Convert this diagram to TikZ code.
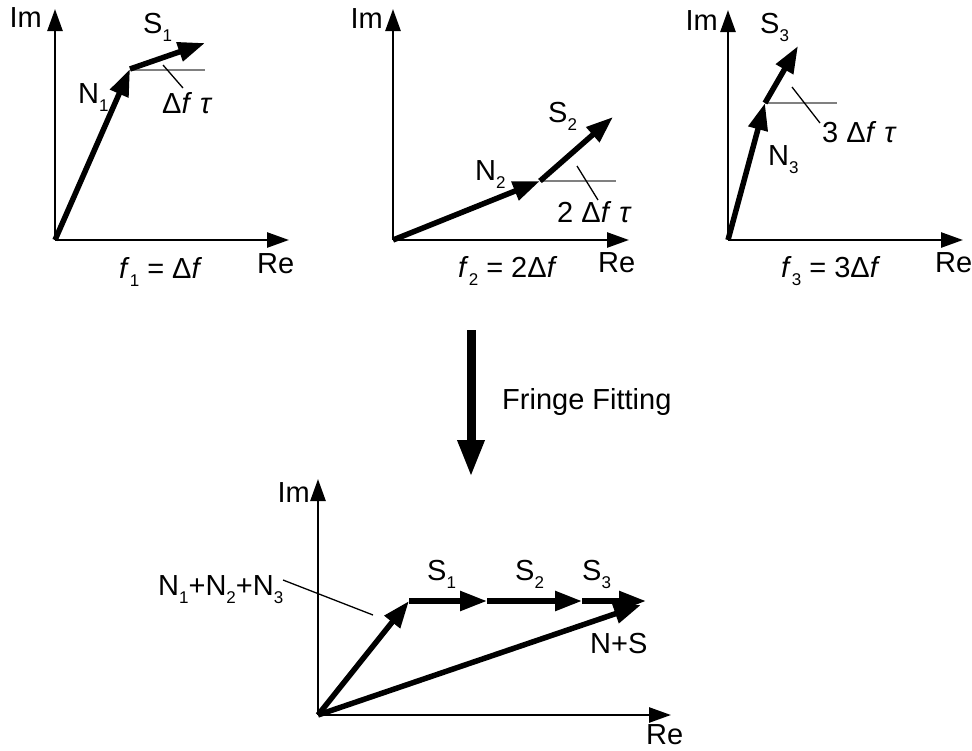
\documentclass[tikz,border=0pt]{standalone}
\usepackage{fontspec}
\setmainfont{Liberation Sans}
\usetikzlibrary{arrows.meta}
\newcommand\sbs[1]{\raisebox{-8.5pt}{\fontsize{17}{17}\selectfont #1}}
\begin{document}
\begin{tikzpicture}[x=1pt,y=-1pt,
  axis/.style={line width=2.6pt,-{Triangle[length=22pt,width=15pt]}},
  vec/.style={line width=5.5pt,-{Triangle[length=27pt,width=19pt]}},
  refline/.style={line width=1.3pt,draw={rgb,255:red,128;green,128;blue,128}},
  leader/.style={line width=1.3pt,black},
  lbl/.style={inner sep=0pt,font=\fontsize{29}{32}\selectfont},
  bigarrow/.style={line width=9pt,-{Triangle[length=37pt,width=25pt]}}]
\useasboundingbox (0,0) rectangle (972,750);
% ---------- panel 1 ----------
\coordinate (O1) at (55,240);
\coordinate (I1) at (55,9);
\coordinate (R1) at (289,240);
\coordinate (N1) at (130,69);
\coordinate (S1) at (205,43);
\coordinate (H1) at (205,70);
\coordinate (L1a) at (163,65);
\coordinate (L1b) at (183,88);
\draw[axis] (O1) -- (I1);
\draw[axis] (O1) -- (R1);
\draw[refline] (N1 |- H1) -- (H1);
\draw[leader] (L1a) -- (L1b);
\draw[vec] (O1) -- (N1);
\draw[vec] (N1) -- (S1);
\node[lbl,anchor=base east] (im1) at (42,27) {Im};
\node[lbl,anchor=base west] (re1) at (257,273) {Re};
\node[lbl,anchor=base west] (s1l) at (143,33) {S\sbs{1}};
\node[lbl,anchor=base west] (n1l) at (78,103) {N\sbs{1}};
\node[lbl,anchor=base west] (d1l) at (162,113) {Δ\textit{f} \textit{τ}};
\node[lbl,anchor=base west] (f1l) at (119,278) {\textit{f}\sbs{1} = Δ\textit{f}};
% ---------- panel 2 ----------
\coordinate (O2) at (393,240);
\coordinate (I2) at (393,9);
\coordinate (R2) at (629,240);
\coordinate (N2) at (540,181);
\coordinate (S2) at (613,117);
\coordinate (H2) at (616,181);
\coordinate (L2a) at (577,166);
\coordinate (L2b) at (598,200);
\draw[axis] (O2) -- (I2);
\draw[axis] (O2) -- (R2);
\draw[refline] (N2) -- (H2);
\draw[leader] (L2a) -- (L2b);
\draw[vec] (O2) -- (N2);
\draw[vec] (N2) -- (S2);
\node[lbl,anchor=base east] (im2) at (383,28) {Im};
\node[lbl,anchor=base west] (re2) at (598,272) {Re};
\node[lbl,anchor=base west] (s2l) at (548,122) {S\sbs{2}};
\node[lbl,anchor=base west] (n2l) at (475,180) {N\sbs{2}};
\node[lbl,anchor=base west] (d2l) at (557,222) {2 Δ\textit{f} \textit{τ}};
\node[lbl,anchor=base west] (f2l) at (458,277) {\textit{f}\sbs{2} = 2Δ\textit{f}};
% ---------- panel 3 ----------
\coordinate (O3) at (728,240);
\coordinate (I3) at (728,10);
\coordinate (R3) at (963,240);
\coordinate (N3) at (765,103);
\coordinate (S3) at (798,46);
\coordinate (H3) at (837,103);
\coordinate (L3a) at (792,87);
\coordinate (L3b) at (820,123);
\draw[axis] (O3) -- (I3);
\draw[axis] (O3) -- (R3);
\draw[refline] (N3) -- (H3);
\draw[leader] (L3a) -- (L3b);
\draw[vec] (O3) -- (N3);
\draw[vec] (N3) -- (S3);
\node[lbl,anchor=base east] (im3) at (718,30) {Im};
\node[lbl,anchor=base west] (re3) at (935,272) {Re};
\node[lbl,anchor=base west] (s3l) at (760,33) {S\sbs{3}};
\node[lbl,anchor=base west] (n3l) at (768,165) {N\sbs{3}};
\node[lbl,anchor=base west] (d3l) at (822,142) {3 Δ\textit{f} \textit{τ}};
\node[lbl,anchor=base west] (f3l) at (781,277) {\textit{f}\sbs{3} = 3Δ\textit{f}};
% ---------- fringe fitting ----------
\coordinate (FFa) at (471,330);
\coordinate (FFb) at (471,477);
\draw[bigarrow] (FFa) -- (FFb);
\node[lbl,anchor=base west] (ffl) at (502,409) {Fringe Fitting};
% ---------- bottom panel ----------
\coordinate (O4) at (318,715);
\coordinate (I4) at (318,479);
\coordinate (R4) at (671,715);
\coordinate (NN) at (409,601);
\coordinate (T1) at (487,601);
\coordinate (T2) at (582,601);
\coordinate (T3) at (646,601);
\coordinate (NS) at (641,605);
\coordinate (L4a) at (283,580);
\coordinate (L4b) at (373,615);
\draw[axis] (O4) -- (I4);
\draw[axis] (O4) -- (R4);
\draw[leader] (L4a) -- (L4b);
\draw[vec] (O4) -- (NN);
\draw[vec] (NN) -- (T1);
\draw[vec] (T1) -- (T2);
\draw[vec] (T2) -- (T3);
\draw[vec] (O4) -- (NS);
\node[lbl,anchor=base east] (im4) at (310,502) {Im};
\node[lbl,anchor=base west] (re4) at (646,744) {Re};
\node[lbl,anchor=base west] (nnl) at (158,595) {N\sbs{1}+N\sbs{2}+N\sbs{3}};
\node[lbl,anchor=base west] (t1l) at (427,580) {S\sbs{1}};
\node[lbl,anchor=base west] (t2l) at (515,580) {S\sbs{2}};
\node[lbl,anchor=base west] (t3l) at (582,580) {S\sbs{3}};
\node[lbl,anchor=base west] (nsl) at (590,653) {N+S};
\end{tikzpicture}
\end{document}
